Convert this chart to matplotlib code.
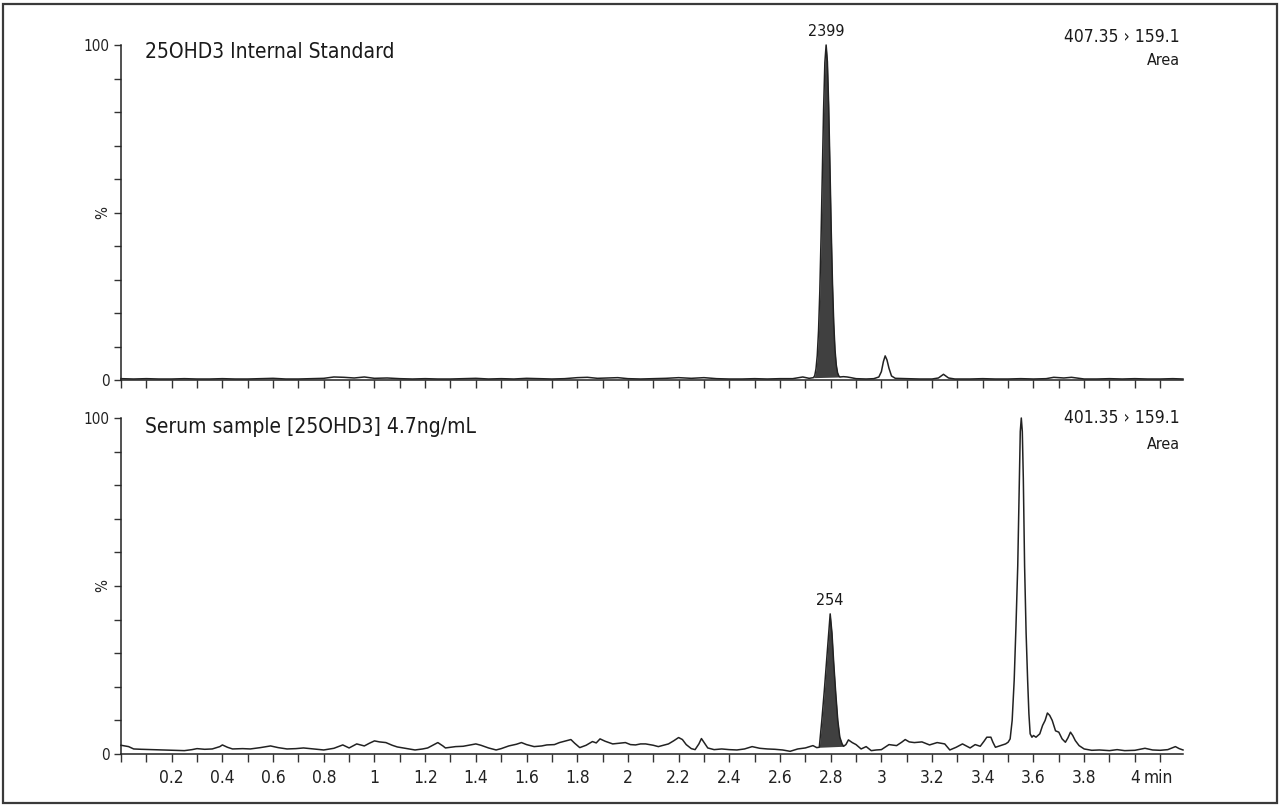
import matplotlib
matplotlib.use("Agg")
import matplotlib.pyplot as plt
from matplotlib.patches import Rectangle
from matplotlib.ticker import MultipleLocator, FixedLocator, FixedFormatter
from matplotlib import font_manager as fm
import numpy as np

# choose a condensed-looking font if available
_fp = fm.FontProperties(family='DejaVu Sans', stretch='condensed')
_path = fm.findfont(_fp, fallback_to_default=True)
if 'Condensed' in _path:
    FONT = ['DejaVu Sans']
    STRETCH = 'condensed'
    SCALE = 1.0
else:
    FONT = ['Lato', 'DejaVu Sans']
    STRETCH = 'normal'
    SCALE = 0.95
plt.rcParams['font.family'] = FONT
plt.rcParams['font.stretch'] = STRETCH

# ---------------- data ----------------
top_title = "25OHD3 Internal Standard"
bot_title = "Serum sample [25OHD3] 4.7ng/mL"
top_mrm = "407.35 \u203a 159.1"
bot_mrm = "401.35 \u203a 159.1"
top_peak_label = "2399"
bot_peak_label = "254"

top_t = [0.00, 0.05, 0.10, 0.15, 0.20, 0.25, 0.30, 0.35, 0.40, 0.45, 0.50, 0.55, 0.60, 0.65, 0.70,
         0.75, 0.80, 0.84, 0.88, 0.92, 0.96, 1.00, 1.05, 1.10, 1.15, 1.20, 1.25, 1.30, 1.35, 1.40,
         1.45, 1.50, 1.55, 1.60, 1.65, 1.70, 1.75, 1.80, 1.84, 1.88, 1.92, 1.96, 2.00, 2.05, 2.10,
         2.15, 2.20, 2.25, 2.30, 2.35, 2.40, 2.45, 2.50, 2.55, 2.60, 2.65, 2.69, 2.715, 2.732, 2.737,
         2.742, 2.747, 2.752, 2.757, 2.762, 2.767, 2.772, 2.777, 2.782, 2.787, 2.792, 2.797, 2.802,
         2.807, 2.812, 2.817, 2.822, 2.827, 2.832, 2.837, 2.85, 2.865, 2.88,
         2.90, 2.94, 2.97, 2.99, 3.00, 3.008, 3.015, 3.022, 3.03, 3.04, 3.055, 3.10, 3.15, 3.20,
         3.225, 3.245, 3.265, 3.29, 3.35, 3.40, 3.45, 3.50, 3.55, 3.60, 3.65, 3.68, 3.72, 3.75,
         3.80, 3.85, 3.90, 3.95, 4.00, 4.05, 4.10, 4.15, 4.19]
top_y = [0.4, 0.3, 0.4, 0.3, 0.3, 0.4, 0.3, 0.3, 0.4, 0.3, 0.3, 0.4, 0.5, 0.3, 0.3,
         0.4, 0.5, 0.9, 0.8, 0.6, 0.9, 0.5, 0.6, 0.4, 0.3, 0.4, 0.3, 0.3, 0.4, 0.5,
         0.3, 0.4, 0.3, 0.5, 0.4, 0.3, 0.4, 0.7, 0.8, 0.5, 0.6, 0.7, 0.4, 0.3, 0.4,
         0.5, 0.7, 0.5, 0.7, 0.4, 0.3, 0.3, 0.4, 0.3, 0.4, 0.4, 0.9, 0.5, 0.7, 1.3,
         3.3, 7.3, 14.6, 26.3, 42.6, 61.8, 80.8, 94.8, 100.0, 95.0, 82.0, 64.0, 45.0,
         29.0, 17.0, 9.0, 4.5, 2.2, 1.2, 0.9, 1.0, 0.9, 0.7,
         0.4, 0.3, 0.4, 0.9, 2.5, 5.5, 7.2, 6.0, 3.5, 1.2, 0.5, 0.4, 0.3, 0.3,
         0.6, 1.7, 0.6, 0.3, 0.3, 0.4, 0.3, 0.3, 0.4, 0.3, 0.4, 0.8, 0.6, 0.8,
         0.3, 0.3, 0.4, 0.3, 0.4, 0.3, 0.3, 0.4, 0.3]
top_fill_range = [2.732, 2.837]

bot_t = [0.00, 0.015, 0.03, 0.05, 0.08, 0.12, 0.17, 0.21, 0.25, 0.28, 0.30, 0.33, 0.36, 0.39, 0.40,
         0.42, 0.44, 0.48, 0.51, 0.55, 0.59, 0.62, 0.655, 0.69, 0.72, 0.76, 0.80, 0.84, 0.875, 0.90,
         0.93, 0.96, 0.98, 1.00, 1.02, 1.045, 1.07, 1.09, 1.12, 1.16, 1.19, 1.21, 1.23, 1.25, 1.27,
         1.28, 1.30, 1.32, 1.35, 1.38, 1.40, 1.42, 1.45, 1.48, 1.50, 1.53, 1.56, 1.58, 1.60, 1.63,
         1.66, 1.68, 1.71, 1.73, 1.755, 1.775, 1.79, 1.81, 1.835, 1.86, 1.875, 1.89, 1.91, 1.94, 1.965,
         1.99, 2.01, 2.03, 2.05, 2.07, 2.10, 2.12, 2.14, 2.16, 2.18, 2.20, 2.215, 2.23, 2.25, 2.265,
         2.28, 2.29, 2.30, 2.315, 2.34, 2.37, 2.40, 2.43, 2.46, 2.49, 2.52, 2.55, 2.58, 2.61, 2.64,
         2.67, 2.70, 2.73, 2.745, 2.755, 2.765, 2.775, 2.785, 2.792, 2.798, 2.805, 2.812, 2.82, 2.828,
         2.836, 2.845, 2.851, 2.86, 2.87, 2.885, 2.90, 2.92, 2.94, 2.96, 2.98, 3.00, 3.03, 3.06, 3.08,
         3.094, 3.11, 3.13, 3.16, 3.19, 3.22, 3.25, 3.27, 3.295, 3.32, 3.35, 3.37, 3.39, 3.405, 3.416,
         3.432, 3.44, 3.45, 3.47, 3.49, 3.50, 3.508, 3.516, 3.524, 3.531, 3.538, 3.544, 3.548, 3.552, 3.556,
         3.56, 3.565, 3.571, 3.577, 3.582, 3.587, 3.594, 3.60, 3.61, 3.625, 3.636, 3.646, 3.655, 3.664, 3.674,
         3.687, 3.70, 3.713, 3.726, 3.736, 3.746, 3.755, 3.765, 3.78, 3.80, 3.83, 3.86, 3.90, 3.93, 3.96,
         4.00, 4.04, 4.07, 4.10, 4.13, 4.16, 4.175, 4.19]
bot_y = [2.6, 2.4, 2.2, 1.5, 1.4, 1.3, 1.2, 1.1, 1.0, 1.3, 1.6, 1.4, 1.5, 2.2, 2.7,
         2.0, 1.5, 1.6, 1.5, 1.9, 2.4, 1.9, 1.5, 1.6, 1.8, 1.5, 1.2, 1.7, 2.7, 1.8,
         3.0, 2.4, 3.2, 3.9, 3.6, 3.4, 2.6, 2.1, 1.7, 1.2, 1.5, 1.8, 2.6, 3.4, 2.4,
         1.8, 2.0, 2.2, 2.3, 2.7, 3.0, 2.6, 1.8, 1.2, 1.6, 2.4, 2.9, 3.4, 2.8, 2.2,
         2.4, 2.7, 2.8, 3.4, 3.9, 4.3, 3.2, 1.9, 2.6, 3.7, 3.3, 4.5, 3.8, 3.0, 3.2,
         3.4, 2.8, 2.7, 3.0, 3.0, 2.6, 2.2, 2.6, 3.0, 3.9, 4.9, 4.3, 2.8, 1.6, 1.3,
         3.0, 4.6, 3.5, 1.8, 1.3, 1.5, 1.3, 1.2, 1.5, 2.2, 1.7, 1.5, 1.4, 1.2, 0.8,
         1.5, 1.8, 2.5, 1.9, 2.0, 10.0, 19.0, 29.0, 36.0, 41.7, 36.0, 27.0, 18.0, 10.0,
         5.0, 3.0, 2.3, 2.8, 4.2, 3.4, 2.8, 1.5, 2.2, 1.0, 1.2, 1.3, 2.8, 2.5, 3.5,
         4.3, 3.6, 3.4, 3.6, 2.7, 3.4, 3.0, 1.2, 2.0, 3.0, 1.8, 2.8, 2.3, 3.8, 5.0,
         5.0, 3.5, 2.0, 2.5, 3.0, 3.5, 4.5, 10.0, 22.0, 38.0, 56.0, 80.0, 96.0, 100.0, 96.0,
         82.0, 56.0, 36.0, 22.0, 12.0, 6.0, 5.0, 5.5, 5.0, 6.0, 8.5, 10.0, 12.2, 11.5, 10.0,
         6.9, 6.5, 4.5, 3.5, 4.8, 6.5, 5.5, 4.0, 2.5, 1.5, 1.1, 1.2, 1.0, 1.3, 1.0,
         1.1, 1.7, 1.2, 1.1, 1.3, 2.2, 1.6, 1.2]
bot_fill_range = [2.755, 2.851]

x_major = [0.2, 0.4, 0.6, 0.8, 1, 1.2, 1.4, 1.6, 1.8, 2, 2.2, 2.4, 2.6, 2.8, 3, 3.2, 3.4, 3.6, 3.8, 4]
x_labels = ["0.2", "0.4", "0.6", "0.8", "1", "1.2", "1.4", "1.6", "1.8", "2", "2.2", "2.4",
            "2.6", "2.8", "3", "3.2", "3.4", "3.6", "3.8", "4"]

# ---------------- figure ----------------
W, H = 1280, 807
fig = plt.figure(figsize=(W / 100, H / 100), dpi=100)
fig.patch.set_facecolor('white')

def frac_box(x0, x1, ytop, ybot):
    return [x0 / W, 1 - ybot / H, (x1 - x0) / W, (ybot - ytop) / H]

ax1 = fig.add_axes(frac_box(121, 1183, 45, 380))
ax2 = fig.add_axes(frac_box(121, 1183, 418, 754))

line_c = '#222222'
fill_c = '#404040'
text_c = '#1a1a1a'

def fs(v):
    return v * SCALE

def style(ax, show_labels):
    ax.set_xlim(0, 4.19)
    ax.set_ylim(0, 100)
    for s in ['top', 'right']:
        ax.spines[s].set_visible(False)
    for s in ['left', 'bottom']:
        ax.spines[s].set_linewidth(1.1)
        ax.spines[s].set_color('#222222')
    ax.xaxis.set_major_locator(FixedLocator(x_major))
    ax.xaxis.set_minor_locator(MultipleLocator(0.1))
    ax.tick_params(axis='x', which='both', direction='out', length=6, width=1.0,
                   color='#333333', labelsize=fs(12.5), pad=5, labelcolor='#222222')
    if show_labels:
        ax.xaxis.set_major_formatter(FixedFormatter(x_labels))
    else:
        ax.tick_params(axis='x', which='both', labelbottom=False)
    ax.yaxis.set_major_locator(FixedLocator(list(range(0, 101, 10))))
    ylabels = ["0", "", "", "", "", "%", "", "", "", "", "100"]
    ax.yaxis.set_major_formatter(FixedFormatter(ylabels))
    ax.tick_params(axis='y', direction='out', length=5, width=1.0, color='#333333',
                   labelsize=fs(11), pad=3, labelcolor='#222222')
    ax.set_facecolor('white')

def draw(ax, t, y, rng):
    t = np.asarray(t)
    y = np.asarray(y)
    mask = (t >= rng[0]) & (t <= rng[1])
    tf = t[mask]
    yf = y[mask]
    base = np.interp(tf, [tf[0], tf[-1]], [yf[0], yf[-1]])
    ax.fill_between(tf, base, yf, color=fill_c, lw=0, zorder=2)
    ax.plot(t, y, color=line_c, lw=1.1, zorder=3, clip_on=False)

style(ax1, False)
style(ax2, True)
draw(ax1, top_t, top_y, top_fill_range)
draw(ax2, bot_t, bot_y, bot_fill_range)

fig.canvas.draw()
for ax in (ax1, ax2):
    for lab in ax.get_yticklabels():
        if lab.get_text() == "%":
            lab.set_rotation(90)
            lab.set_va('center')

# titles inside panels
ax1.text(0.0226, 0.979, top_title, transform=ax1.transAxes, fontsize=fs(15), va='center',
         ha='left', color=text_c)
ax2.text(0.0226, 0.973, bot_title, transform=ax2.transAxes, fontsize=fs(15), va='center',
         ha='left', color=text_c)

# MRM labels
ax1.text(0.997, 1.024, top_mrm, transform=ax1.transAxes, fontsize=fs(12.5), va='center', ha='right',
         color=text_c, clip_on=False)
ax1.text(0.997, 0.955, "Area", transform=ax1.transAxes, fontsize=fs(11.5), va='center', ha='right',
         color=text_c)
ax2.text(0.997, 1.0, bot_mrm, transform=ax2.transAxes, fontsize=fs(12.5), va='center', ha='right',
         color=text_c, clip_on=False)
ax2.text(0.997, 0.92, "Area", transform=ax2.transAxes, fontsize=fs(11.5), va='center', ha='right',
         color=text_c)

# peak labels
ti = int(np.argmax(top_y))
ax1.annotate(top_peak_label, (top_t[ti], top_y[ti]), xytext=(0, 4), textcoords='offset points',
             ha='center', va='bottom', fontsize=fs(11.5), color=text_c, annotation_clip=False)
idx = [i for i in range(len(bot_t)) if bot_fill_range[0] <= bot_t[i] <= bot_fill_range[1]]
bi = max(idx, key=lambda i: bot_y[i])
ax2.annotate(bot_peak_label, (bot_t[bi], bot_y[bi]), xytext=(0, 4), textcoords='offset points',
             ha='center', va='bottom', fontsize=fs(11.5), color=text_c)

# "min" after the "4" tick label
lab4 = [l for l in ax2.get_xticklabels() if l.get_text() == "4"][0]
ax2.annotate("min", xy=(1, 0), xycoords=lab4, xytext=(3, 0), textcoords='offset points',
             ha='left', va='bottom', fontsize=fs(12.5), color='#222222', annotation_clip=False)

# outer border
fig.add_artist(Rectangle((3 / W, 4 / H), 1274 / W, 799 / H, transform=fig.transFigure,
                         fill=False, edgecolor='#3a3a3a', lw=1.6))

fig.savefig("out.png", dpi=100, facecolor='white')
